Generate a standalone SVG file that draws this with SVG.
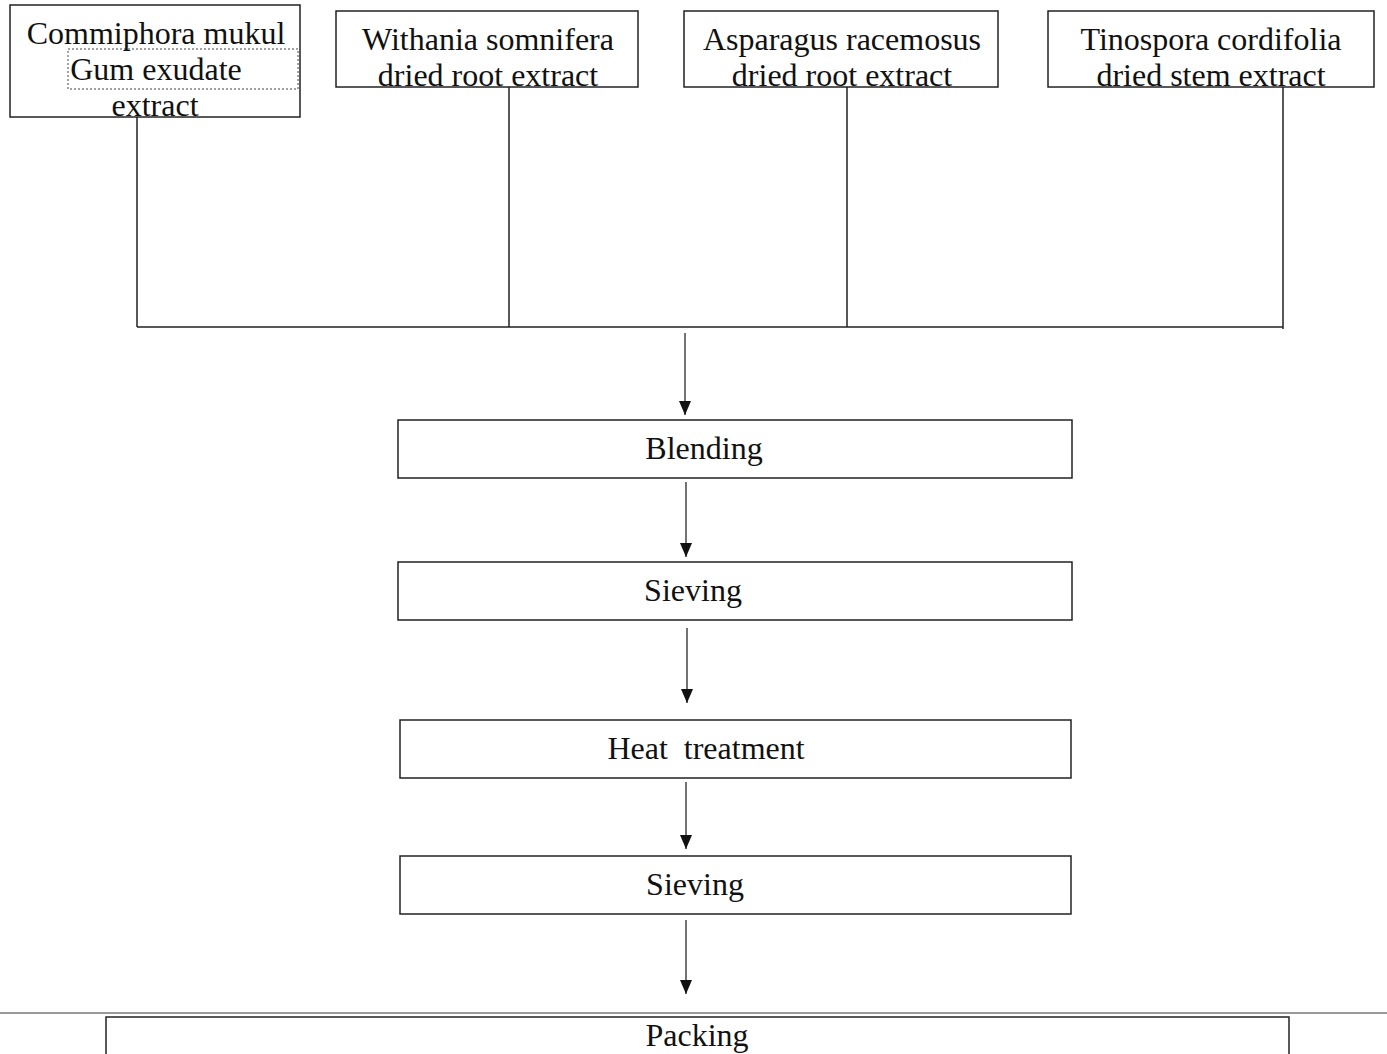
<svg xmlns="http://www.w3.org/2000/svg" width="1387" height="1054" viewBox="0 0 1387 1054">
<style>
.box{fill:#fff;stroke:#222;stroke-width:1.5}
.t{font-family:"Liberation Serif","Times New Roman",serif;font-size:32px;fill:#111;text-anchor:middle}
.c{fill:none;stroke:#222;stroke-width:1.5}
.a{fill:none;stroke:#444;stroke-width:1.5;marker-end:url(#ah)}
</style>
<defs>
<marker id="ah" viewBox="0 0 14 12" refX="14" refY="6" markerWidth="14" markerHeight="12" markerUnits="userSpaceOnUse" orient="auto">
<path d="M0,0 L14,6 L0,12 Z" fill="#111"/>
</marker>
</defs>
<rect width="1387" height="1054" fill="#fff"/>
<g id="connectors">
<path class="c" d="M137,117 V327 M509,87 V327 M847,87 V327 M1283,87 V329 M137,327 H1283"/>
<line class="a" x1="685" y1="333" x2="685" y2="415"/>
<line class="a" x1="686" y1="482" x2="686" y2="557"/>
<line class="a" x1="687" y1="628" x2="687" y2="703"/>
<line class="a" x1="686" y1="782" x2="686" y2="849"/>
<line class="a" x1="686" y1="920" x2="686" y2="994"/>
</g>
<g id="n1">
<rect class="box" x="10" y="5" width="290" height="112"/>
<rect x="68" y="49" width="230" height="40" fill="none" stroke="#444" stroke-width="1" stroke-dasharray="2,2"/>
<text class="t" x="156" y="44">Commiphora mukul</text>
<text class="t" x="156" y="80">Gum exudate</text>
<text class="t" x="155" y="116">extract</text>
</g>
<g id="n2">
<rect class="box" x="336" y="11" width="302" height="76"/>
<text class="t" x="488" y="50">Withania somnifera</text>
<text class="t" x="488" y="86">dried root extract</text>
</g>
<g id="n3">
<rect class="box" x="684" y="11" width="314" height="76"/>
<text class="t" x="842" y="50">Asparagus racemosus</text>
<text class="t" x="842" y="86">dried root extract</text>
</g>
<g id="n4">
<rect class="box" x="1048" y="11" width="326" height="76"/>
<text class="t" x="1211" y="50">Tinospora cordifolia</text>
<text class="t" x="1211" y="86">dried stem extract</text>
</g>
<g id="n5">
<rect class="box" x="398" y="420" width="674" height="58"/>
<text class="t" x="704" y="459">Blending</text>
</g>
<g id="n6">
<rect class="box" x="398" y="562" width="674" height="58"/>
<text class="t" x="693" y="601">Sieving</text>
</g>
<g id="n7">
<rect class="box" x="400" y="720" width="671" height="58"/>
<text class="t" x="706" y="759" xml:space="preserve">Heat  treatment</text>
</g>
<g id="n8">
<rect class="box" x="400" y="856" width="671" height="58"/>
<text class="t" x="695" y="895">Sieving</text>
</g>
<line x1="0" y1="1013" x2="1387" y2="1013" stroke="#999" stroke-width="2"/>
<g id="n9">
<rect class="box" x="106" y="1017" width="1183" height="50"/>
<text class="t" x="697" y="1046">Packing</text>
</g>
</svg>
